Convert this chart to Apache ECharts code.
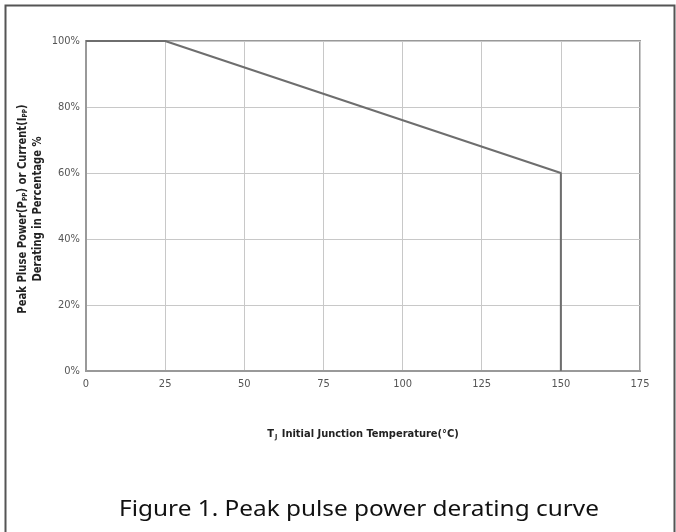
<!DOCTYPE html>
<html style="height: 100%">
  <head>
    <meta charset="UTF-8" />
    <title>Peak pulse power derating curve</title>
    <script src="https://cdn.jsdelivr.net/npm/echarts@6/dist/echarts.min.js"></script>
  </head>
  <body style="height: 100%; margin: 0; background: #fff">
    <div id="main" style="width: 676px; height: 532px"></div>
    <script>
      const chart = echarts.init(document.getElementById('main'))

      // derating curve, temperature in °C vs percentage
      const temps = [0, 25, 150, 150]
      const percents = [100, 100, 60, 0]
      const xTicks = [0, 25, 50, 75, 100, 125, 150, 175]
      const yTicks = [0, 20, 40, 60, 80, 100]

      const narrow = "'Liberation Sans Narrow', 'DejaVu Sans Condensed', sans-serif"

      const option = {
        animation: false,
        grid: {
          left: 86,
          right: 36,
          top: 41,
          bottom: 161,
          show: true,
          borderColor: '#999',
          borderWidth: 2,
        },
        xAxis: {
          type: 'value',
          min: xTicks[0],
          max: xTicks[xTicks.length - 1],
          interval: 25,
          name: '{b|T}{s|J}{b| Initial Junction Temperature(°C)}',
          nameLocation: 'middle',
          nameGap: 57,
          nameTextStyle: {
            rich: {
              b: { fontFamily: narrow, fontWeight: 'bold', fontSize: 11, color: '#222' },
              s: { fontFamily: narrow, fontWeight: 'bold', fontSize: 7, color: '#222', padding: [6, 1, 0, 1] },
            },
          },
          axisLine: { show: true, lineStyle: { color: '#999', width: 2 } },
          axisTick: { show: false },
          axisLabel: { fontFamily: narrow, fontSize: 11, color: '#555', margin: 8 },
          splitLine: { show: true, lineStyle: { color: '#c8c8c8', width: 1 } },
        },
        yAxis: {
          type: 'value',
          min: yTicks[0],
          max: yTicks[yTicks.length - 1],
          interval: 20,
          axisLine: { show: true, lineStyle: { color: '#999', width: 2 } },
          axisTick: { show: false },
          axisLabel: { fontFamily: narrow, fontSize: 11, color: '#555', margin: 6, formatter: '{value}%' },
          splitLine: { show: true, lineStyle: { color: '#c8c8c8', width: 1 } },
        },
        graphic: [
          {
            type: 'rect',
            left: 3,
            top: 3,
            shape: { width: 669, height: 600 },
            style: { fill: 'none', stroke: '#555', lineWidth: 2 },
            z: -10,
          },
          {
            type: 'text',
            x: 30,
            y: 209,
            rotation: Math.PI / 2,
            scaleX: 0.93,
            style: {
              text: '{b|Peak Pluse Power(P}{s|PP}{b|) or Current(I}{s|PP}{b|)}\n{b|Derating in Percentage %}',
              align: 'center',
              verticalAlign: 'middle',
              lineHeight: 15,
              rich: {
                b: { fontFamily: narrow, fontWeight: 'bold', fontSize: 12, fill: '#222', lineHeight: 15 },
                s: { fontFamily: narrow, fontWeight: 'bold', fontSize: 7, fill: '#222', lineHeight: 15, padding: [6, 0, 0, 0] },
              },
            },
          },
          {
            // caption under the chart
            type: 'text',
            x: 359,
            y: 510,
            scaleX: 1.16,
            style: {
              text: 'Figure 1. Peak pulse power derating curve',
              align: 'center',
              verticalAlign: 'middle',
              font: "21px 'Noto Sans', sans-serif",
              fill: '#111',
            },
          },
        ],
        series: [
          {
            type: 'line',
            data: temps.map((t, i) => [t, percents[i]]),
            showSymbol: false,
            symbol: 'none',
            lineStyle: { color: '#6e6e6e', width: 2 },
            z: 5,
          },
        ],
      }

      chart.setOption(option)
    </script>
  </body>
</html>
